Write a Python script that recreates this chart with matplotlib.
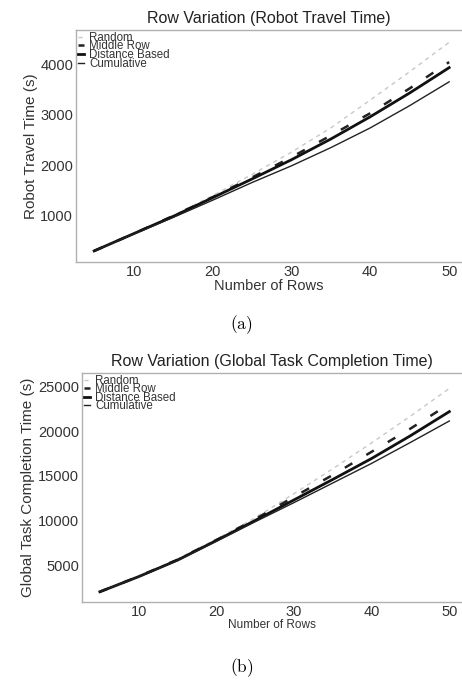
import numpy as np
import matplotlib
matplotlib.use("Agg")
import matplotlib.pyplot as plt

plt.rcParams['font.family'] = ['Liberation Sans', 'DejaVu Sans']
plt.rcParams['mathtext.fontset'] = 'cm'

rows = [5, 10, 15, 20, 25, 30, 35, 40, 45, 50]
labels = ["Random", "Middle Row", "Distance Based", "Cumulative"]

# robot travel time (s)
travel_random = [310, 650, 1010, 1400, 1820, 2260, 2740, 3290, 3850, 4430]
travel_middle = [310, 650, 1000, 1370, 1760, 2160, 2590, 3030, 3520, 4040]
travel_distance = [310, 650, 990, 1360, 1730, 2110, 2520, 2960, 3430, 3930]
travel_cumulative = [310, 640, 970, 1310, 1660, 1990, 2350, 2740, 3180, 3650]

# global task completion time (s)
global_random = [2000, 3750, 5700, 7900, 10300, 13000, 15800, 18700, 21700, 24800]
global_middle = [2000, 3720, 5600, 7800, 10150, 12650, 15100, 17700, 20300, 23060]
global_distance = [2000, 3700, 5550, 7750, 10000, 12300, 14600, 16950, 19500, 22200]
global_cumulative = [2000, 3680, 5500, 7650, 9850, 12000, 14200, 16400, 18750, 21150]

styles = [
    dict(color="#c8c8c8", lw=1.0, dashes=(3, 3)),
    dict(color="#222222", lw=1.8, dashes=(3.5, 6.5)),
    dict(color="#111111", lw=2.0),
    dict(color="#222222", lw=1.0),
]


def draw(ax, series, title, ylabel, ylim, yticks, xlab_size):
    for s, lab, st in zip(series, labels, styles):
        ax.plot(rows, s, label=lab, **st)
    ax.set_xlim(2.7, 51.6)
    ax.set_ylim(*ylim)
    ax.set_xticks([10, 20, 30, 40, 50])
    ax.set_yticks(yticks)
    ax.tick_params(length=0, labelsize=10.5, colors="#333333", pad=2)
    for side in ["left", "bottom", "top"]:
        ax.spines[side].set_color("#b0b0b0")
        ax.spines[side].set_linewidth(1.0)
    ax.spines["right"].set_visible(False)
    ax.set_title(title, fontsize=11.5, color="#222222", pad=5)
    ax.set_ylabel(ylabel, fontsize=11, color="#333333", labelpad=2)
    ax.set_xlabel("Number of Rows", fontsize=xlab_size, color="#333333", labelpad=0)
    leg = ax.legend(loc="upper left", frameon=False, fontsize=8.3,
                    handlelength=0.55, handletextpad=0.45, labelspacing=-0.3,
                    borderaxespad=0.05, borderpad=0.1)
    for t in leg.get_texts():
        t.set_color("#333333")


fig = plt.figure(figsize=(4.62, 6.86), dpi=100)

ax1 = fig.add_axes([0.1645, 0.618, 0.835, 0.338])
draw(ax1, [travel_random, travel_middle, travel_distance, travel_cumulative],
     "Row Variation (Robot Travel Time)", "Robot Travel Time (s)",
     (90, 4670), [1000, 2000, 3000, 4000], 10.5)

ax2 = fig.add_axes([0.1775, 0.1224, 0.822, 0.334])
draw(ax2, [global_random, global_middle, global_distance, global_cumulative],
     "Row Variation (Global Task Completion Time)", "Global Task Completion Time (s)",
     (850, 26540), [5000, 10000, 15000, 20000, 25000], 8.5)

fig.text(0.523, 1 - 325 / 686, r"$\mathrm{(a)}$", ha="center", va="center", fontsize=12.5)
fig.text(0.523, 1 - 668 / 686, r"$\mathrm{(b)}$", ha="center", va="center", fontsize=12.5)

fig.savefig("out.png", dpi=100)
